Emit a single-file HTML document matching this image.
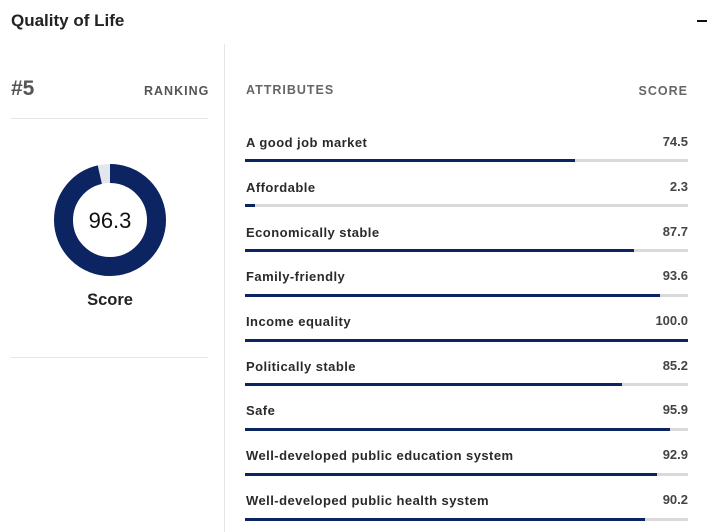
<!DOCTYPE html>
<html><head><style>
body{margin:0;width:715px;height:532px;background:#fff;font-family:"Liberation Sans",sans-serif;position:relative;overflow:hidden;color:#222}
.a{position:absolute}
.lab{position:absolute;left:246px;font-size:13px;font-weight:bold;color:#2a2a2a;letter-spacing:0.45px}
.val{position:absolute;right:27px;font-size:13px;font-weight:bold;color:#444}
.bg{position:absolute;left:245px;width:443px;height:3px;background:#d9d9d9}
.fg{height:3px;background:#0d2463}
</style></head><body>
<div class="a" style="left:11px;top:11px;font-size:17px;font-weight:bold;color:#222">Quality of Life</div>
<div class="a" style="left:697px;top:20px;width:10px;height:2px;background:#111"></div>
<div class="a" style="left:224px;top:44px;width:1px;height:488px;background:#e6e6e6"></div>
<div class="a" style="left:11px;top:77px;font-size:21px;font-weight:bold;color:#555">#5</div>
<div class="a" style="left:144px;top:84px;font-size:12.5px;font-weight:bold;color:#555;letter-spacing:1px">RANKING</div>
<div class="a" style="left:11px;top:118px;width:197px;height:1px;background:#e6e6e6"></div>
<div class="a" style="left:11px;top:357px;width:197px;height:1px;background:#e6e6e6"></div>
<svg class="a" style="left:0;top:0" width="224" height="360">
<circle cx="110" cy="220" r="46.5" fill="none" stroke="#e4e6ee" stroke-width="19"/>
<circle cx="110" cy="220" r="46.5" fill="none" stroke="#0d2463" stroke-width="19" stroke-dasharray="281.4 292.2" transform="rotate(-90 110 220)"/>
<text x="110" y="228" text-anchor="middle" font-size="22" font-family="Liberation Sans" fill="#111">96.3</text>
<text x="110" y="305" text-anchor="middle" font-size="16.5" font-weight="bold" font-family="Liberation Sans" fill="#222">Score</text>
</svg>
<div class="a" style="left:246px;top:83px;font-size:12.5px;font-weight:bold;color:#666;letter-spacing:1px">ATTRIBUTES</div>
<div class="a" style="right:27px;top:84px;font-size:12.5px;font-weight:bold;color:#666;letter-spacing:1px">SCORE</div>

<div class="lab" style="top:135px">A good job market</div><div class="val" style="top:134px">74.5</div><div class="bg" style="top:159px"><div class="fg" style="width:74.5%"></div></div>
<div class="lab" style="top:180px">Affordable</div><div class="val" style="top:179px">2.3</div><div class="bg" style="top:204px"><div class="fg" style="width:2.3%"></div></div>
<div class="lab" style="top:225px">Economically stable</div><div class="val" style="top:224px">87.7</div><div class="bg" style="top:249px"><div class="fg" style="width:87.7%"></div></div>
<div class="lab" style="top:269px">Family-friendly</div><div class="val" style="top:268px">93.6</div><div class="bg" style="top:294px"><div class="fg" style="width:93.6%"></div></div>
<div class="lab" style="top:314px">Income equality</div><div class="val" style="top:313px">100.0</div><div class="bg" style="top:339px"><div class="fg" style="width:100%"></div></div>
<div class="lab" style="top:359px">Politically stable</div><div class="val" style="top:358px">85.2</div><div class="bg" style="top:383px"><div class="fg" style="width:85.2%"></div></div>
<div class="lab" style="top:403px">Safe</div><div class="val" style="top:402px">95.9</div><div class="bg" style="top:428px"><div class="fg" style="width:95.9%"></div></div>
<div class="lab" style="top:448px">Well-developed public education system</div><div class="val" style="top:447px">92.9</div><div class="bg" style="top:473px"><div class="fg" style="width:92.9%"></div></div>
<div class="lab" style="top:493px">Well-developed public health system</div><div class="val" style="top:492px">90.2</div><div class="bg" style="top:518px"><div class="fg" style="width:90.2%"></div></div>
</body></html>
